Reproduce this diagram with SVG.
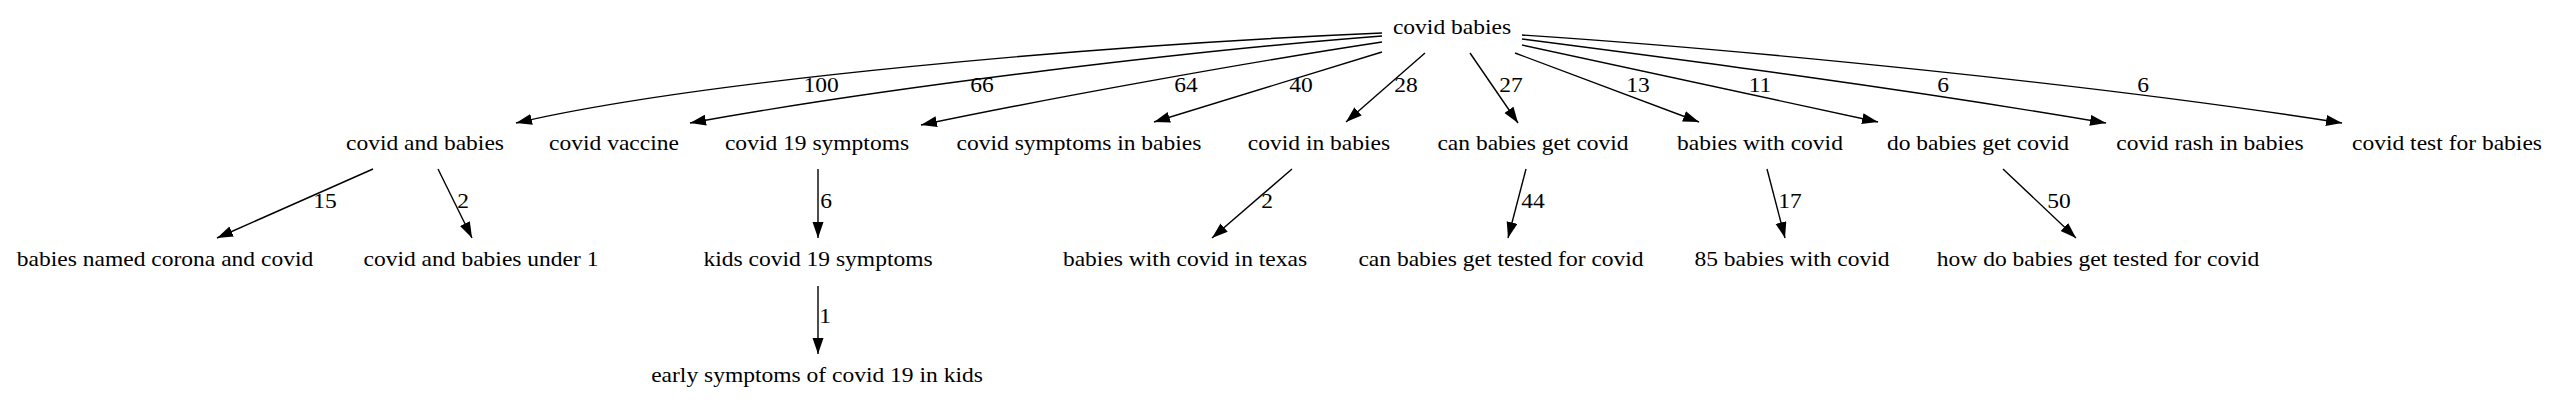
<svg xmlns="http://www.w3.org/2000/svg" width="2567" height="407" viewBox="0 0 2567 407">
<style>
text { font-family: "Liberation Serif", "Times New Roman", serif; font-size: 21px; fill: #000; text-anchor: middle; }
.e path { fill: none; stroke: #000; stroke-width: 1.4; }
</style>
<defs>
<marker id="arr" markerUnits="userSpaceOnUse" markerWidth="17" markerHeight="12" refX="16" refY="5.5" orient="auto" viewBox="0 0 17 12">
<path d="M0,0 L16,5.5 L0,11 z" fill="#000"/>
</marker>
</defs>
<rect width="2567" height="407" fill="#fff"/>
<g class="e" id="edges">
<path marker-end="url(#arr)" d="M1382,33 C1100,45 700,80 516,123"/>
<path marker-end="url(#arr)" d="M1382,36 C1200,50 900,85 690,123"/>
<path marker-end="url(#arr)" d="M1382,42 C1250,62 1050,98 921,125"/>
<path marker-end="url(#arr)" d="M1382,52 L1154,122"/>
<path marker-end="url(#arr)" d="M1425,53 L1346,122"/>
<path marker-end="url(#arr)" d="M1470,53 L1518,123"/>
<path marker-end="url(#arr)" d="M1515,53 L1699,122"/>
<path marker-end="url(#arr)" d="M1522,45 L1878,122"/>
<path marker-end="url(#arr)" d="M1522,39 C1700,62 1900,88 2106,123"/>
<path marker-end="url(#arr)" d="M1522,35 C1750,50 2100,85 2342,123"/>
<path marker-end="url(#arr)" d="M373,169 L217,238"/>
<path marker-end="url(#arr)" d="M438,169 L472,238"/>
<path marker-end="url(#arr)" d="M818,169 L818,238"/>
<path marker-end="url(#arr)" d="M818,286 L818,354"/>
<path marker-end="url(#arr)" d="M1292,169 L1212,238"/>
<path marker-end="url(#arr)" d="M1526,169 L1508,238"/>
<path marker-end="url(#arr)" d="M1767,169 L1785,238"/>
<path marker-end="url(#arr)" d="M2003,169 L2076,238"/>
<g id="edge-labels">
<text transform="translate(821,92) scale(1.12,1)">100</text>
<text transform="translate(982,92) scale(1.12,1)">66</text>
<text transform="translate(1186,92) scale(1.12,1)">64</text>
<text transform="translate(1301,92) scale(1.12,1)">40</text>
<text transform="translate(1406,92) scale(1.12,1)">28</text>
<text transform="translate(1511,92) scale(1.12,1)">27</text>
<text transform="translate(1638,92) scale(1.12,1)">13</text>
<text transform="translate(1760,92) scale(1.12,1)">11</text>
<text transform="translate(1943,92) scale(1.12,1)">6</text>
<text transform="translate(2143,92) scale(1.12,1)">6</text>
<text transform="translate(325,208) scale(1.12,1)">15</text>
<text transform="translate(463,208) scale(1.12,1)">2</text>
<text transform="translate(826,208) scale(1.12,1)">6</text>
<text transform="translate(825,323) scale(1.12,1)">1</text>
<text transform="translate(1267,208) scale(1.12,1)">2</text>
<text transform="translate(1533,208) scale(1.12,1)">44</text>
<text transform="translate(1790,208) scale(1.12,1)">17</text>
<text transform="translate(2059,208) scale(1.12,1)">50</text>
</g>
</g>
<g id="n-root" transform="translate(1452,34) scale(1.12,1)"><text>covid babies</text></g>
<g id="n-covid-and-babies" transform="translate(425,150) scale(1.12,1)"><text>covid and babies</text></g>
<g id="n-covid-vaccine" transform="translate(614,150) scale(1.12,1)"><text>covid vaccine</text></g>
<g id="n-covid-19-symptoms" transform="translate(817,150) scale(1.12,1)"><text>covid 19 symptoms</text></g>
<g id="n-covid-symptoms-in-babies" transform="translate(1079,150) scale(1.12,1)"><text>covid symptoms in babies</text></g>
<g id="n-covid-in-babies" transform="translate(1319,150) scale(1.12,1)"><text>covid in babies</text></g>
<g id="n-can-babies-get-covid" transform="translate(1533,150) scale(1.12,1)"><text>can babies get covid</text></g>
<g id="n-babies-with-covid" transform="translate(1760,150) scale(1.12,1)"><text>babies with covid</text></g>
<g id="n-do-babies-get-covid" transform="translate(1978,150) scale(1.12,1)"><text>do babies get covid</text></g>
<g id="n-covid-rash-in-babies" transform="translate(2210,150) scale(1.12,1)"><text>covid rash in babies</text></g>
<g id="n-covid-test-for-babies" transform="translate(2447,150) scale(1.12,1)"><text>covid test for babies</text></g>
<g id="n-babies-named-corona" transform="translate(165,266) scale(1.12,1)"><text>babies named corona and covid</text></g>
<g id="n-covid-and-babies-under-1" transform="translate(481,266) scale(1.12,1)"><text>covid and babies under 1</text></g>
<g id="n-kids-covid-19-symptoms" transform="translate(818,266) scale(1.12,1)"><text>kids covid 19 symptoms</text></g>
<g id="n-babies-with-covid-in-texas" transform="translate(1185,266) scale(1.12,1)"><text>babies with covid in texas</text></g>
<g id="n-can-babies-get-tested" transform="translate(1501,266) scale(1.12,1)"><text>can babies get tested for covid</text></g>
<g id="n-85-babies-with-covid" transform="translate(1792,266) scale(1.12,1)"><text>85 babies with covid</text></g>
<g id="n-how-do-babies-get-tested" transform="translate(2098,266) scale(1.12,1)"><text>how do babies get tested for covid</text></g>
<g id="n-early-symptoms" transform="translate(817,382) scale(1.12,1)"><text>early symptoms of covid 19 in kids</text></g>
</svg>
